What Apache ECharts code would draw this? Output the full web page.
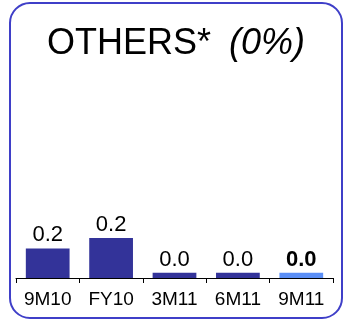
<!DOCTYPE html>
<html>
<head>
<meta charset="utf-8">
<script src="https://cdn.jsdelivr.net/npm/echarts@6/dist/echarts.min.js"></script>
<style>
  html, body { margin: 0; padding: 0; background: #ffffff; }
  #chart { width: 345px; height: 321px; }
</style>
</head>
<body>
<div id="chart"></div>
<script>
// Periods shown on the category axis
const periods = ['9M10', 'FY10', '3M11', '6M11', '9M11'];
// Values per period
const values = [0.17, 0.23, 0.03, 0.03, 0.03];
// Title pieces
const titleMain = 'OTHERS*';
const titleShare = '(0%)';

const DARK = '#333399';
const LIGHT = '#5b8ff7';
const FONT = 'Liberation Sans, Arial, sans-serif';
const lastIdx = periods.length - 1;

const chart = echarts.init(document.getElementById('chart'), null, { renderer: 'canvas' });

chart.setOption({
  animation: false,
  backgroundColor: '#ffffff',
  textStyle: { fontFamily: FONT },
  graphic: [
    {
      type: 'rect',
      shape: { x: 10, y: 3, width: 332, height: 315, r: 20 },
      style: { fill: 'none', stroke: '#3f3fc8', lineWidth: 2 },
      z: 0
    },
    {
      type: 'text',
      x: 47,
      y: 62,
      style: {
        text: titleMain,
        textAlign: 'left',
        textVerticalAlign: 'bottom',
        fontSize: 36,
        fontFamily: FONT,
        fill: '#000'
      }
    },
    {
      type: 'text',
      x: 229,
      y: 62,
      style: {
        text: titleShare,
        textAlign: 'left',
        textVerticalAlign: 'bottom',
        fontSize: 36,
        fontStyle: 'italic',
        fontFamily: FONT,
        fill: '#000'
      }
    }
  ],
  grid: { left: 16, right: 12, top: 104, bottom: 43, containLabel: false },
  xAxis: {
    type: 'category',
    data: periods,
    axisLine: { show: true, lineStyle: { color: '#000', width: 1 } },
    axisTick: { show: true, length: 5, lineStyle: { color: '#000' } },
    axisLabel: { color: '#000', fontSize: 19, margin: 12, fontFamily: FONT }
  },
  yAxis: { type: 'value', min: 0, max: 1, show: false, splitLine: { show: false } },
  series: [{
    type: 'bar',
    barWidth: '69%',
    data: values.map((v, i) => ({
      value: v,
      itemStyle: { color: i === lastIdx ? LIGHT : DARK },
      label: i === lastIdx ? { fontWeight: 'bold' } : {}
    })),
    label: {
      show: true,
      position: 'top',
      distance: 2,
      color: '#000',
      fontSize: 22,
      fontFamily: FONT,
      formatter: p => p.value.toFixed(1)
    }
  }]
});
</script>
</body>
</html>
